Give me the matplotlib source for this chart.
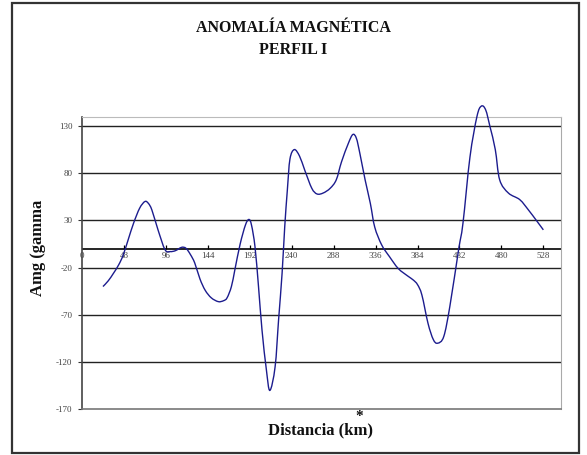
import matplotlib
matplotlib.use("Agg")
import matplotlib.pyplot as plt
import numpy as np
from matplotlib.patches import Rectangle, PathPatch
from matplotlib.path import Path

# profile readings (km, gamma)
distancia = [24, 30, 36, 42, 47, 53, 59, 66, 72, 76, 80, 87, 95, 101, 107, 114, 119,
             124, 129, 135, 141, 148, 156, 162, 166, 171, 175, 181, 187, 191, 194,
             198, 202, 206, 211, 215, 221, 225, 229, 232, 235, 238, 243, 249, 255,
             263, 269, 276, 284, 291, 297, 305, 310, 314, 318, 324, 330, 335, 343,
             352, 362, 373, 379, 384, 389, 396, 402, 407, 414, 421, 431, 436, 444,
             452, 457, 462, 467, 473, 478, 488, 501, 511, 520, 528]
amg = [-40, -34, -26, -17, -7, 10, 27, 43, 50, 48, 41, 20, -1, -3, -2, 1.5, 0.5,
       -6, -15, -32, -44, -52, -56, -55, -52, -40, -22, 5, 25, 31, 25,
       2, -40, -86, -128, -150, -125, -75, -26, 23, 62, 95, 105, 98, 83,
       64, 58, 59, 64, 73, 92, 112, 121, 117, 101, 73, 48, 23, 4,
       -8.5, -21, -29, -33, -38, -49, -79, -96, -100, -93, -61, -1, 27, 97,
       140, 151, 147, 129, 105, 73, 59, 52, 41, 30, 20]

x_ticks = [0, 48, 96, 144, 192, 240, 288, 336, 384, 432, 480, 528]
y_ticks = [-170, -120, -70, -20, 30, 80, 130]


def smooth_path(xs, ys):
    # Excel-style smoothed line: Catmull-Rom segments as cubic Bezier curves
    p = np.column_stack([xs, ys]).astype(float)
    verts = [p[0]]
    codes = [Path.MOVETO]
    n = len(p)
    for i in range(n - 1):
        p0 = p[i - 1] if i > 0 else p[i]
        p1, p2 = p[i], p[i + 1]
        p3 = p[i + 2] if i + 2 < n else p[i + 1]
        verts += [p1 + (p2 - p0) / 6, p2 - (p3 - p1) / 6, p2]
        codes += [Path.CURVE4] * 3
    return Path(verts, codes)


W, H = 587, 455
fig = plt.figure(figsize=(W / 100, H / 100), dpi=100)
fig.patch.set_facecolor("white")

# outer chart border
fig.patches.append(Rectangle((12 / W, 2 / H), 567 / W, 450 / H, transform=fig.transFigure,
                             fill=False, edgecolor="#333333", linewidth=1.6))

ax = fig.add_axes([82 / W, 45.7 / H, 479 / W, 292.3 / H])
ax.set_xlim(0, 548.2)
ax.set_ylim(-170, 139.5)

for y in y_ticks[1:]:
    ax.axhline(y, color="#222222", linewidth=1.0, zorder=1)
ax.axhline(0, color="black", linewidth=1.2, zorder=2)

# x tick marks and labels sit on the zero line
ax.vlines(x_ticks[1:], 0, 3.5, color="black", linewidth=0.9, zorder=2)
for t in x_ticks:
    ax.text(t, -3.5, str(t), ha="center", va="top", fontsize=6.5,
            family="Liberation Serif", color="#444444")

ax.add_patch(PathPatch(smooth_path(distancia, amg), facecolor="none", edgecolor="#1c1c8e",
                       linewidth=1.0, zorder=3, clip_on=False))

ax.set_xticks([])
ax.set_yticks(y_ticks)
ax.set_yticklabels([str(v) for v in y_ticks], fontsize=6.5, family="Liberation Serif",
                   color="#444444")
ax.tick_params(axis="y", length=3, width=0.8, color="#333333", pad=4)

ax.spines["left"].set_color("#444444")
ax.spines["left"].set_linewidth(1.2)
ax.spines["bottom"].set_color("#777777")
ax.spines["bottom"].set_linewidth(1.2)
ax.spines["top"].set_color("#bbbbbb")
ax.spines["right"].set_color("#aaaaaa")

fig.text(293 / W, 1 - 28 / H, "ANOMALÍA MAGNÉTICA", ha="center", va="center",
         fontsize=11.5, fontweight="bold", family="Liberation Serif", color="#111111")
fig.text(293 / W, 1 - 50 / H, "PERFIL I", ha="center", va="center",
         fontsize=11.5, fontweight="bold", family="Liberation Serif", color="#111111")
fig.text(38 / W, 1 - 248 / H, "Amg (gamma", rotation=90, ha="center", va="center",
         fontsize=12, fontweight="bold", family="Liberation Serif", color="#111111")
fig.text(321 / W, 1 - 430 / H, "Distancia (km)", ha="center", va="center",
         fontsize=12, fontweight="bold", family="Liberation Serif", color="#111111")
fig.text(359 / W, 1 - 416 / H, "*", ha="center", va="center",
         fontsize=11, fontweight="bold", family="Liberation Serif", color="#111111")

fig.savefig("out.png", dpi=100)
